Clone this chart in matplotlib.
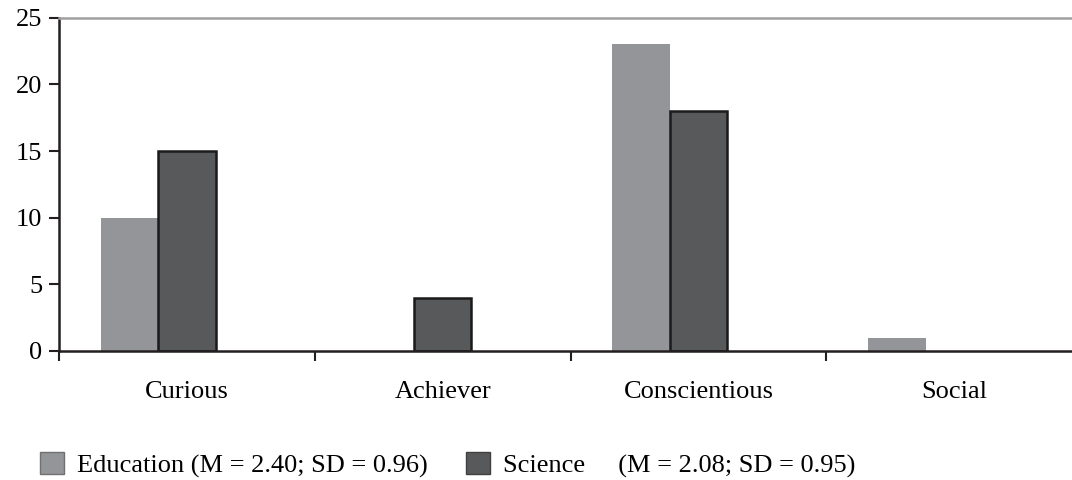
import numpy as np
import matplotlib.pyplot as plt
from matplotlib.patches import Patch

categories = ['Curious', 'Achiever', 'Conscientious', 'Social']
education = [10, 0, 23, 1]
science = [15, 4, 18, 0]
edu_label = 'Education (M = 2.40; SD = 0.96)'
sci_label = 'Science     (M = 2.08; SD = 0.95)'

plt.rcParams['font.family'] = ['Liberation Serif', 'DejaVu Serif']

edu_col = '#949598'
sci_col = '#58595b'

fig = plt.figure(figsize=(10.72, 4.8), dpi=100)
ax = fig.add_axes([0.055, 0.269, 0.945, 0.694])

x = np.arange(len(categories))
w = 0.225
ax.bar(x - 1.5 * w, education, w, align='edge', color=edu_col, linewidth=0)
sci = [v if v > 0 else np.nan for v in science]
ax.bar(x - 0.5 * w, sci, w, align='edge', color=sci_col, edgecolor='#1a1a1a', linewidth=1.8)

ax.set_xlim(-0.5, 3.46)
ax.set_ylim(0, 25)
ax.set_yticks([0, 5, 10, 15, 20, 25])
ax.set_xticks(np.arange(-0.5, 3.0, 1.0))
ax.set_xticklabels([])
ax.set_xticks(x, minor=True)
ax.set_xticklabels(categories, minor=True)
ax.tick_params(axis='x', which='minor', length=0, pad=22, labelsize=19)
ax.tick_params(axis='x', which='major', length=7, width=1.5, direction='out', color='#231f20')
ax.tick_params(axis='y', length=7, width=1.5, labelsize=19, color='#231f20', pad=5)

ax.spines['right'].set_visible(False)
ax.spines['top'].set_color('#a0a0a0')
ax.spines['top'].set_linewidth(1.8)
ax.spines['left'].set_linewidth(1.8)
ax.spines['left'].set_color('#231f20')
ax.spines['bottom'].set_linewidth(1.8)
ax.spines['bottom'].set_color('#231f20')

handles = [Patch(facecolor=edu_col, edgecolor='#707070', linewidth=1.0, label=edu_label),
           Patch(facecolor=sci_col, edgecolor='#404040', linewidth=1.0, label=sci_label)]
fig.legend(handles=handles, loc='center', bbox_to_anchor=(0.418, 0.032), ncol=2,
           frameon=False, fontsize=19, handlelength=0.9, handleheight=0.95,
           handletextpad=0.5, columnspacing=1.45)

fig.savefig('out.png', dpi=100)
